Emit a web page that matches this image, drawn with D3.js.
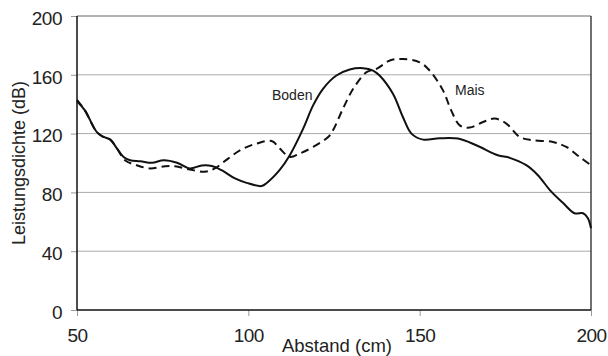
<!DOCTYPE html>
<html>
<head>
<meta charset="utf-8">
<script src="https://cdn.jsdelivr.net/npm/d3@7"></script>
<style>
  body { margin: 0; background: #fff; }
  text { font-family: "Liberation Sans", Arial, sans-serif; fill: #222; }
</style>
</head>
<body>
<svg id="chart" width="608" height="356"></svg>
<script>
// Abstand (cm) / Leistungsdichte (dB)
var bodenX = [50, 52.3, 55.8, 57.8, 59.7, 61.7, 63.6, 65.5, 68.5, 71.9, 75.3, 79.2, 82.9, 86.4, 89.3, 92.2, 96.1, 99.5,
              103.8, 105.2, 109.1, 112.1, 116, 118.9, 121.8, 125.7, 129.6, 133.5, 136.4, 138.3, 142.2, 145.1, 147.6,
              151, 155.8, 161.2, 166.5, 172.8, 176.3, 181.1, 184.5, 188, 191.8, 195.2, 197.7, 199.1, 200];
var bodenY = [142, 135.8, 121, 117.7, 115.9, 109.8, 104.1, 101.9, 101.2, 100.1, 101.9, 100.2, 96.3, 98.3, 98, 95.1, 89.5, 86.5,
              84.3, 86.1, 95.1, 105.3, 123.4, 139.2, 150.5, 159.5, 163.6, 164.5, 162.9, 159.5, 147.1, 131.3, 120,
              115.9, 116.8, 116.6, 112.1, 105.3, 103.5, 98.5, 91.7, 81.6, 72.9, 65.8, 65.8, 62.4, 55.6];

var maisX = [50, 52.3, 55.8, 57.8, 59.7, 61.7, 64, 67.4, 71.3, 75.7, 78.6, 82.9, 87.3, 90.2, 94.1, 98, 102.4, 106.8,
             109.2, 112.1, 115, 118.9, 123.3, 124.7, 127.6, 130.6, 134.5, 137.4, 141.3, 145.1, 150, 152.9, 156.8,
             159.2, 161.7, 164.6, 168.5, 171.9, 175.3, 179.2, 183, 188.9, 192.8, 196.7, 200];
var maisY = [143, 135.8, 121, 117.7, 115.9, 109.8, 101.9, 98.5, 96.3, 97.8, 97.8, 95.6, 94, 96.3, 103, 109.2, 113.2, 115,
             109.8, 104.1, 106.4, 110.9, 117.7, 122.2, 136.9, 150.5, 161.8, 164, 169.7, 170.8, 168.5, 162.9, 149.4,
             135.8, 125.6, 124.1, 127.9, 130.2, 126.8, 117.7, 115.5, 114.3, 110.9, 104.1, 98.5];

var xTicks = [50, 100, 150, 200];
var yTicks = [0, 40, 80, 120, 160, 200];

var svg = d3.select("#chart");
var margin = { left: 77, right: 17, top: 16, bottom: 46 };
var w = 608 - margin.left - margin.right,
    h = 356 - margin.top - margin.bottom;

var x = d3.scaleLinear().domain([50, 200]).range([0, w]);
var y = d3.scaleLinear().domain([0, 200]).range([h, 0]);

var g = svg.append("g").attr("transform", "translate(" + margin.left + "," + margin.top + ")");

// gridlines
g.selectAll("line.grid")
    .data(yTicks.filter(function (d) { return d > 0; }))
    .enter().append("line")
    .attr("class", "grid")
    .attr("x1", 0).attr("x2", w)
    .attr("y1", function (d) { return y(d); })
    .attr("y2", function (d) { return y(d); })
    .attr("stroke", function (d) { return d === 200 ? "#666" : "#aaa"; })
    .attr("stroke-width", 1);

// axes
var yAxis = d3.axisLeft(y).tickValues(yTicks).tickSize(6).tickPadding(9);
var xAxis = d3.axisBottom(x).tickValues(xTicks).tickSize(6).tickPadding(13);

var ya = g.append("g").call(yAxis);
var xa = g.append("g").attr("transform", "translate(0," + h + ")").call(xAxis);

[ya, xa].forEach(function (a) {
  a.select(".domain").remove();
  a.selectAll(".tick line").attr("stroke", "#999");
  a.selectAll(".tick text")
      .style("font-size", "19px")
      .style("font-family", "Liberation Sans, Arial, sans-serif")
      .style("letter-spacing", "-0.5px")
      .attr("fill", "#222");
});
ya.selectAll(".tick text").attr("dy", "0.44em");

// frame: left, bottom, right
g.append("line").attr("x1", 0).attr("x2", 0).attr("y1", 0).attr("y2", h)
    .attr("stroke", "#111").attr("stroke-width", 1.5);
g.append("line").attr("x1", 0).attr("x2", w).attr("y1", h).attr("y2", h)
    .attr("stroke", "#111").attr("stroke-width", 1.5);
g.append("line").attr("x1", w).attr("x2", w).attr("y1", 0).attr("y2", h)
    .attr("stroke", "#111").attr("stroke-width", 1.2);

var line = d3.line()
    .x(function (d) { return x(d[0]); })
    .y(function (d) { return y(d[1]); })
    .curve(d3.curveCatmullRom.alpha(0.5));

var boden = d3.zip(bodenX, bodenY);
var mais = d3.zip(maisX, maisY);

g.append("path").datum(mais)
    .attr("d", line)
    .attr("fill", "none")
    .attr("stroke", "#111")
    .attr("stroke-width", 2)
    .attr("stroke-dasharray", "8,5");

g.append("path").datum(boden)
    .attr("d", line)
    .attr("fill", "none")
    .attr("stroke", "#111")
    .attr("stroke-width", 2);

// series labels
svg.append("text").attr("x", 272).attr("y", 100).style("font-size", "14px").text("Boden");
svg.append("text").attr("x", 455).attr("y", 95).style("font-size", "14px").text("Mais");

// axis titles
svg.append("text")
    .attr("x", margin.left + w / 2 + 3)
    .attr("y", 352)
    .attr("text-anchor", "middle")
    .style("font-size", "18.5px")
    .text("Abstand (cm)");

svg.append("text")
    .attr("transform", "translate(25," + (margin.top + h / 2) + ") rotate(-90)")
    .attr("text-anchor", "middle")
    .style("font-size", "18px")
    .text("Leistungsdichte (dB)");
</script>
</body>
</html>
